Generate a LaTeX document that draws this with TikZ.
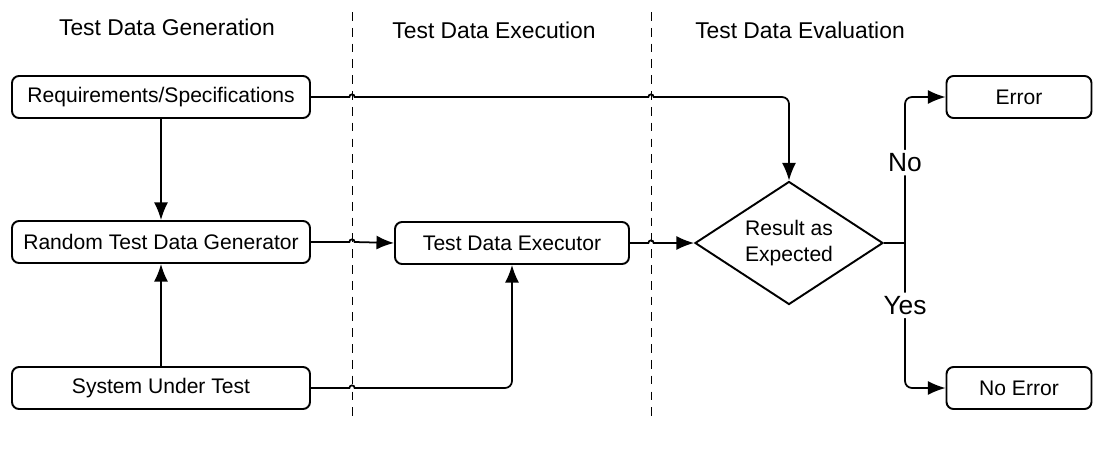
\documentclass[tikz,border=0pt]{standalone}
\usepackage{fontspec}
\setmainfont{Liberation Sans}
\usetikzlibrary{arrows.meta,shapes.geometric,calc}

\begin{document}
\begin{tikzpicture}[x=0.02cm,y=-0.02cm,
  box/.style={draw,line width=1.1pt,rounded corners=4pt,align=center,
    minimum width=298*0.02cm,minimum height=42*0.02cm,inner sep=0pt,
    font=\fontsize{12}{14}\selectfont},
  decision/.style={draw,line width=1.1pt,diamond,aspect=1.53,inner sep=0pt,
    minimum width=188*0.02cm,minimum height=123*0.02cm,align=center,
    font=\fontsize{12}{15}\selectfont},
  phase/.style={font=\fontsize{13}{15}\selectfont},
  lane/.style={dashed,dash pattern=on 5pt off 4pt,line width=0.5pt},
  flow/.style={line width=1pt,-{Latex[length=10pt,width=8pt]}},
  answer/.style={fill=white,inner sep=2pt,font=\fontsize{15}{17}\selectfont}]
\useasboundingbox (0,0) rectangle (1098,450);

% swim lanes
\coordinate (sepA) at (352,12);
\coordinate (sepB) at (651,12);
\draw [lane] (sepA) -- (352,422);
\draw [lane] (sepB) -- (651,422);
\node [phase] (gen-title) at (167,27) {Test Data Generation};
\node [phase] (exe-title) at (494,30) {Test Data Execution};
\node [phase] (eva-title) at (800,30) {Test Data Evaluation};

% nodes
\node [box] (req) at (161,97) {Requirements/Specifications};
\node [box] (gen) at (161,242) {Random Test Data Generator};
\node [box] (sut) at (161,388) {System Under Test};
\node [box,minimum width=234*0.02cm] (exe) at (512,243) {Test Data Executor};
\node [decision] (dia) at (789,243) {Result as\\Expected};
\node [box,minimum width=145*0.02cm] (err) at (1019,97) {Error};
\node [box,minimum width=145*0.02cm] (noerr) at (1019,388) {No Error};
\coordinate (split) at (905,243);

% connectors
\draw [flow] (req.east) -- ($(req.east -| sepA)+(-1.5pt,0)$)
  arc [start angle=180,end angle=0,radius=1.5pt]
  -- ($(req.east -| sepB)+(-1.5pt,0)$)
  arc [start angle=180,end angle=0,radius=1.5pt]
  [rounded corners=4pt] -| (dia.north);
\draw [flow] (req.south) -- (gen.north);
\draw [flow] (sut.north) -- (gen.south);
\draw [flow] (gen.east) -- ($(gen.east -| sepA)+(-1.5pt,0)$)
  arc [start angle=180,end angle=0,radius=1.5pt] -- (exe.west);
\draw [flow] (sut.east) -- ($(sut.east -| sepA)+(-1.5pt,0)$)
  arc [start angle=180,end angle=0,radius=1.5pt]
  [rounded corners=4pt] -| (exe.south);
\draw [flow] (exe.east) -- ($(exe.east -| sepB)+(-1.5pt,0)$)
  arc [start angle=180,end angle=0,radius=1.5pt] -- (dia.west);
\draw [line width=1pt] (dia.east) -- (split);
\draw [flow,rounded corners=4pt] (split) |- (err.west)
  node [answer,pos=0.275] {No};
\draw [flow,rounded corners=4pt] (split) |- (noerr.west)
  node [answer,pos=0.215] {Yes};

\end{tikzpicture}
\end{document}
